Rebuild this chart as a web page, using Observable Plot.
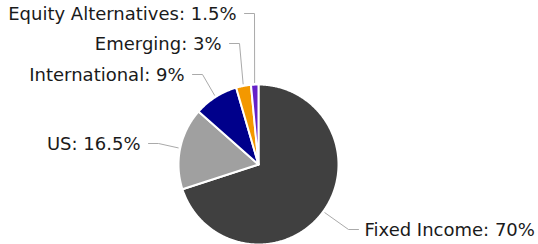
<!DOCTYPE html>
<html><head><meta charset="utf-8">
<script src="https://cdn.jsdelivr.net/npm/d3@7"></script>
<script src="https://cdn.jsdelivr.net/npm/@observablehq/plot@0.6"></script>
<style>body{margin:0;background:#fff;} svg{display:block;}</style>
</head><body><div id="chart"></div>
<script>
// data
const categories = ["Fixed Income", "US", "International", "Emerging", "Equity Alternatives"];
const values = [70, 16.5, 9, 3, 1.5];
const colors = ["#404040", "#a0a0a0", "#00008b", "#f39800", "#6420c8"];

// layout
const W = 538, H = 244, cx = 258, cy = 164, R = 80;
const labelY = [229, 143, 74, 43, 13];
const elbowX = [348, 158, 202, 239, 254];
const side = [1, -1, -1, -1, -1];

const rows = categories.map((c, i) => ({category: c, value: values[i]}));
const arcs = d3.pie().sort(null).value(d => d.value)(rows);

const slicePts = [];
arcs.forEach((a, i) => {
  slicePts.push({category: categories[i], x: cx, y: cy});
  const n = Math.max(2, Math.ceil((a.endAngle - a.startAngle) / 0.01));
  for (let j = 0; j <= n; j++) {
    const t = a.startAngle + (a.endAngle - a.startAngle) * j / n;
    slicePts.push({category: categories[i], x: cx + R * Math.sin(t), y: cy - R * Math.cos(t)});
  }
  slicePts.push({category: categories[i], x: cx, y: cy});
});

const leaderPts = [];
const labelRows = [];
arcs.forEach((a, i) => {
  const m = (a.startAngle + a.endAngle) / 2;
  const r0 = R + 2;
  leaderPts.push({k: i, x: cx + r0 * Math.sin(m), y: cy - r0 * Math.cos(m)});
  leaderPts.push({k: i, x: elbowX[i], y: labelY[i]});
  leaderPts.push({k: i, x: elbowX[i] + side[i] * 10, y: labelY[i]});
  labelRows.push({
    text: `${categories[i]}: ${values[i]}%`,
    x: elbowX[i] + side[i] * (side[i] > 0 ? 16 : 18),
    y: labelY[i] + 1,
    anchor: side[i] > 0 ? "start" : "end"
  });
});

const plot = Plot.plot({
  width: W, height: H,
  margin: 0,
  x: {domain: [0, W], range: [0, W], axis: null},
  y: {domain: [0, H], range: [0, H], axis: null},
  color: {domain: categories, range: colors},
  style: {fontFamily: "'DejaVu Sans', Verdana, sans-serif", fontSize: "18px", background: "#fff"},
  marks: [
    Plot.line(leaderPts, {x: "x", y: "y", z: "k", stroke: "#aaaaaa", strokeWidth: 1, curve: "linear"}),
    Plot.line(slicePts, {x: "x", y: "y", z: "category", fill: "category", stroke: "#ffffff", strokeWidth: 2, strokeLinejoin: "round", curve: "linear"}),
    Plot.text(labelRows.filter(d => d.anchor === "end"), {x: "x", y: "y", text: "text", textAnchor: "end", lineAnchor: "middle", fill: "#1a1a1a", fontSize: 18}),
    Plot.text(labelRows.filter(d => d.anchor === "start"), {x: "x", y: "y", text: "text", textAnchor: "start", lineAnchor: "middle", fill: "#1a1a1a", fontSize: 18})
  ]
});
document.getElementById("chart").appendChild(plot);
</script>
</body></html>
